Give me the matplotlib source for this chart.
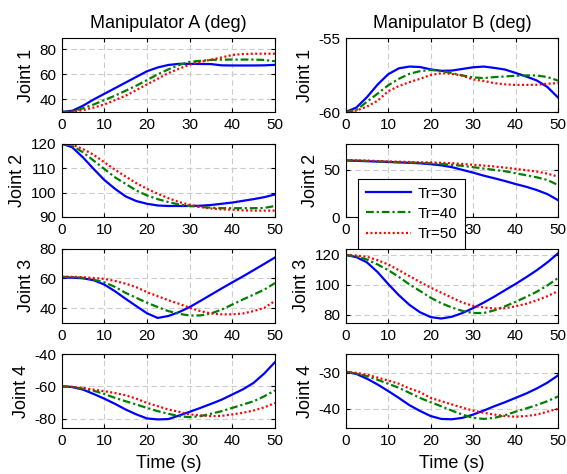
import matplotlib
matplotlib.use('Agg')
import matplotlib.pyplot as plt
import numpy as np

plt.rcParams['font.family'] = ['Liberation Sans', 'DejaVu Sans']
plt.rcParams['axes.unicode_minus'] = False

t = [0, 2.5, 5, 7.5, 10, 12.5, 15, 17.5, 20, 22.5, 25,
     27.5, 30, 32.5, 35, 37.5, 40, 42.5, 45, 47.5, 50]
labels = ['Tr=30', 'Tr=40', 'Tr=50']

# manipulator A, joints 1-4, one list per Tr
a1_30 = [30, 31, 35, 40, 44.5, 49, 53.5, 58, 62.5, 65.5, 67.5, 68.4, 68.4, 68.3, 68.2, 67.2, 67.1, 67.1, 67.1, 67.2, 67.6]
a1_40 = [30, 30.5, 33, 36, 39.5, 43, 47, 51, 55.5, 60, 64, 67.5, 70, 70.8, 71.5, 71.8, 71.8, 71.8, 71.8, 71.5, 70.5]
a1_50 = [30, 30.3, 31.5, 33.5, 36, 39.5, 43, 47.5, 52, 56.5, 61, 64.5, 67.7, 70, 71.7, 73.5, 75.5, 76.2, 76.5, 76.5, 76.5]

a2_30 = [120, 118.4, 114.3, 109.6, 105.1, 101.5, 98.4, 96.5, 95.4, 94.7, 94.5, 94.5, 94.5, 94.6, 94.9, 95.4, 95.9, 96.6, 97.3, 98.1, 99.2]
a2_40 = [120, 119, 116.4, 113, 109.6, 106.2, 103.5, 100.8, 98.8, 97.3, 96.1, 95.1, 94.5, 94.1, 93.8, 93.6, 93.6, 93.6, 93.6, 93.7, 94.5]
a2_50 = [120, 119.5, 117.7, 115.4, 112.3, 109.3, 106.5, 103.8, 101.5, 99.5, 97.7, 96.1, 95, 94.1, 93.5, 93.1, 93, 92.7, 92.6, 92.6, 92.6]

a3_30 = [60.5, 60.4, 60, 58.7, 55.8, 51.3, 46.2, 41.3, 36.5, 33.4, 34.7, 37.3, 40.7, 44.8, 49, 53.2, 57.3, 61.3, 65.5, 69.7, 74]
a3_40 = [61, 60.8, 60.3, 59, 57.3, 54.2, 50.2, 46.9, 43.6, 40.7, 38, 36.2, 35, 35.1, 36.4, 39, 42.4, 45.8, 49.1, 52.4, 56.8]
a3_50 = [61, 61, 60.7, 60.2, 59.6, 58.2, 56.4, 54, 50.7, 48, 45.3, 42.9, 40.2, 38, 36.4, 35.8, 35.8, 36.4, 38, 40.2, 44.8]

a4_30 = [-60, -60.4, -62, -64.7, -67.6, -70.8, -74.3, -77.3, -79.8, -80.4, -80.2, -78, -75.7, -73.3, -70.8, -68.2, -65, -61.8, -57.8, -52, -45]
a4_40 = [-60, -60.4, -61.4, -62.7, -64.7, -67.1, -69.2, -71.2, -73.3, -75.3, -76.9, -78.4, -79, -78.4, -76.9, -75.3, -73.3, -71.2, -69.2, -66.1, -62.5]
a4_50 = [-60, -60.3, -61, -62, -63, -64.1, -65.5, -67.6, -70.2, -72.2, -74.3, -75.7, -77.3, -77.9, -78.4, -78.2, -77.3, -76.3, -74.9, -72.9, -70.3]

# manipulator B
b1_30 = [-60, -59.7, -59.0, -58.15, -57.45, -57.05, -56.93, -56.96, -57.12, -57.22, -57.2, -57.09, -56.98, -56.93, -57.02, -57.13, -57.36, -57.6, -57.87, -58.31, -59.02]
b1_40 = [-60, -59.87, -59.31, -58.76, -58.2, -57.76, -57.42, -57.24, -57.16, -57.22, -57.38, -57.53, -57.66, -57.71, -57.64, -57.6, -57.55, -57.53, -57.53, -57.64, -57.88]
b1_50 = [-60, -59.9, -59.64, -59.24, -58.6, -58.25, -57.98, -57.76, -57.5, -57.38, -57.42, -57.55, -57.8, -57.9, -58.05, -58.13, -58.17, -58.17, -58.16, -58.09, -58.05]

b2_30 = [60, 59.6, 59.2, 58.8, 58.4, 58, 57.5, 57, 56, 54.8, 52.9, 50, 47.1, 43.9, 41.1, 38.2, 35, 32.1, 28.6, 24.3, 17.9]
b2_40 = [60, 59.8, 59.5, 59, 58.5, 58.1, 57.8, 57.4, 57, 56.3, 55.4, 54.3, 52.9, 51.4, 50, 48.6, 46.4, 44.3, 42.1, 39.3, 33.9]
b2_50 = [60.4, 60.2, 59.8, 59.4, 59, 58.7, 58.4, 58.1, 57.9, 57.5, 57.1, 56.3, 55.4, 54.6, 53.6, 52.4, 51.1, 49.7, 48.2, 46, 42.9]

b3_30 = [120, 118.5, 115, 108.5, 100.5, 93, 86.5, 81.5, 78.3, 77.3, 78.5, 81, 84.3, 88, 92, 96.3, 100.5, 105, 109.7, 115, 121]
b3_40 = [120, 118.9, 116.9, 113.6, 109.8, 105.3, 100.2, 95.8, 91.3, 87.6, 84.7, 82.4, 81, 81, 82.8, 85.5, 88.5, 91.8, 95.3, 99.5, 104.5]
b3_50 = [120, 119.6, 118.7, 116.5, 113.6, 109.8, 105.8, 101.8, 98, 94.7, 91.3, 88, 85.8, 84.7, 84, 84.2, 85.5, 87.2, 89.5, 92.3, 95.7]

b4_30 = [-29.8, -30.4, -31.7, -33.3, -35.1, -37, -39, -40.6, -42, -42.8, -42.9, -42.5, -41.6, -40.5, -39.3, -38.2, -37, -35.8, -34.4, -32.8, -30.8]
b4_40 = [-29.8, -30.3, -31, -32, -33.1, -34.2, -35.6, -37, -38.2, -39.3, -40.5, -41.6, -42.5, -42.8, -42.5, -41.8, -40.8, -39.9, -39, -37.9, -36.6]
b4_50 = [-29.8, -30.1, -30.6, -31.4, -32.2, -33.1, -34.4, -35.4, -37, -37.9, -38.8, -39.7, -40.5, -41.1, -41.6, -42, -42.2, -42, -41.6, -40.8, -40]

a_data = [(a1_30, a1_40, a1_50), (a2_30, a2_40, a2_50), (a3_30, a3_40, a3_50), (a4_30, a4_40, a4_50)]
b_data = [(b1_30, b1_40, b1_50), (b2_30, b2_40, b2_50), (b3_30, b3_40, b3_50), (b4_30, b4_40, b4_50)]

a_ylim = [(30, 89), (90, 120), (30, 80), (-85.7, -40)]
a_yticks = [[40, 60, 80], [90, 100, 110, 120], [40, 60, 80], [-80, -60, -40]]
b_ylim = [(-60, -55), (0, 78), (74.3, 124.3), (-45.3, -24.9)]
b_yticks = [[-60, -55], [0, 50], [80, 100, 120], [-40, -30]]

styles = [dict(color=(0, 0, 1), lw=1.6, ls='-'),
          dict(color=(0, 0.5, 0), lw=1.6, ls=(0, (3.5, 1.3, 1, 1.3))),
          dict(color=(1, 0, 0), lw=1.6, ls=(0, (0.9, 1.1)))]

fig = plt.figure(figsize=(5.67, 4.74), dpi=100)

W, H = 567., 474.
cols = [(61.7, 275.0), (345.7, 558.0)]
rows = [(38, 112), (143.5, 217), (248.5, 323), (354, 428)]

handles = []
for c, (data, ylims, yticks, title) in enumerate([(a_data, a_ylim, a_yticks, 'Manipulator A (deg)'),
                                                   (b_data, b_ylim, b_yticks, 'Manipulator B (deg)')]):
    x0, x1 = cols[c]
    for r in range(4):
        top, bot = rows[r]
        ax = fig.add_axes([x0 / W, 1 - bot / H, (x1 - x0) / W, (bot - top) / H])
        for k in range(3):
            h, = ax.plot(t, data[r][k], label=labels[k], **styles[k])
            if c == 0 and r == 0:
                handles.append(h)
        ax.set_xlim(0, 50)
        ax.set_xticks([0, 10, 20, 30, 40, 50])
        ax.set_ylim(*ylims[r])
        ax.set_yticks(yticks[r])
        ax.grid(True, color='#cccccc', ls=(0, (5, 3)), lw=0.8)
        ax.tick_params(direction='in', top=True, right=True, length=3, width=0.8,
                       labelsize=11, pad=4)
        for s in ax.spines.values():
            s.set_linewidth(0.8)
        ax.set_ylabel('Joint %d' % (r + 1), fontsize=13, labelpad=3)
        if r == 0:
            ax.set_title(title, fontsize=13, pad=7)
        if r == 3:
            ax.set_xlabel('Time (s)', fontsize=13, labelpad=5)

leg = fig.legend(handles=handles, labels=labels, loc='upper left',
                 bbox_to_anchor=(358 / W, 1 - 179 / H), fontsize=11,
                 handlelength=3.0, handletextpad=0.4, borderpad=0.5,
                 labelspacing=0.4, borderaxespad=0, fancybox=False,
                 framealpha=1, edgecolor='k')
leg.get_frame().set_linewidth(0.8)

fig.savefig('out.png', dpi=100)
